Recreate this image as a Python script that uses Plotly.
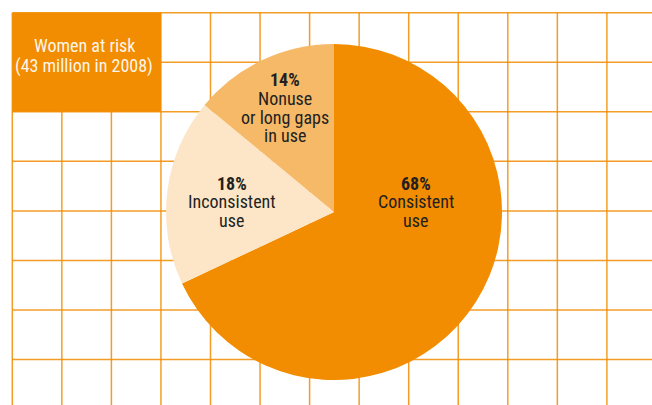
import plotly.graph_objects as go

# Data
categories = ["Consistent use", "Inconsistent use", "Nonuse or long gaps in use"]
label_lines = [["Consistent", "use"], ["Inconsistent", "use"], ["Nonuse", "or long gaps", "in use"]]
shares = [68, 18, 14]
slice_colors = ["#F28C00", "#FDE6C8", "#F6B968"]
box_title = ["Women at risk", "(43 million in 2008)"]

W, H = 652, 405
ORANGE = "#F28C00"
FONT = "Liberation Sans Narrow, Arial Narrow, Roboto Condensed, sans-serif"
TEXT_DARK = "#231F20"


def px(x):
    return x / W


def py(y):
    return 1 - y / H


fig = go.Figure()

# Pie geometry (pixels)
cx, cy, r = 334, 212, 168

fig.add_trace(go.Pie(
    labels=categories,
    values=shares,
    sort=False,
    direction="clockwise",
    rotation=0,
    marker=dict(colors=slice_colors, line=dict(width=0)),
    textinfo="none",
    hoverinfo="label+percent",
    showlegend=False,
    domain=dict(x=[px(cx - r), px(cx + r)], y=[py(cy + r), py(cy - r)]),
))

shapes = []
grid_color = "rgba(242,140,0,0.85)"
step = 49.55
x0, y0 = 12.3, 12.7

# vertical grid lines
x = x0
while x < W:
    shapes.append(dict(type="line", xref="paper", yref="paper",
                       x0=px(x), x1=px(x), y0=py(y0), y1=py(H),
                       line=dict(color=grid_color, width=1.5), layer="below"))
    x += step
# horizontal grid lines
y = y0
while y < H:
    shapes.append(dict(type="line", xref="paper", yref="paper",
                       x0=px(x0), x1=px(W), y0=py(y), y1=py(y),
                       line=dict(color=grid_color, width=1.5), layer="below"))
    y += step

# title box
shapes.append(dict(type="rect", xref="paper", yref="paper",
                   x0=px(x0), x1=px(x0 + 3 * step), y0=py(y0), y1=py(y0 + 2 * step),
                   fillcolor=ORANGE, line=dict(width=0), layer="below"))

annotations = []


def add_line(text, x, baseline, color, size=18):
    # place a single text line by its baseline (pixels from top)
    annotations.append(dict(
        x=px(x), y=py(baseline - 6.5), xref="paper", yref="paper",
        xanchor="center", yanchor="middle",
        text=text, showarrow=False,
        font=dict(family=FONT, size=size, color=color), align="center",
    ))


for i, line in enumerate(box_title):
    add_line(line, 84, 52.3 + 20.4 * i, "#FFF6EA")

# slice labels: (center x, first baseline, line step)
label_pos = [(415.5, 190, 18.4), (231.7, 190, 18.4), (284.5, 86, 18.8)]
for v, lines, (lx, lb, ls) in zip(shares, label_lines, label_pos):
    add_line(f"<b>{v}%</b>", lx, lb, TEXT_DARK)
    for j, line in enumerate(lines, start=1):
        add_line(line, lx, lb + ls * j, TEXT_DARK)

fig.update_layout(
    width=W, height=H,
    margin=dict(l=0, r=0, t=0, b=0),
    paper_bgcolor="white", plot_bgcolor="white",
    xaxis=dict(visible=False), yaxis=dict(visible=False),
    shapes=shapes, annotations=annotations,
)

fig.write_html("out.html")
